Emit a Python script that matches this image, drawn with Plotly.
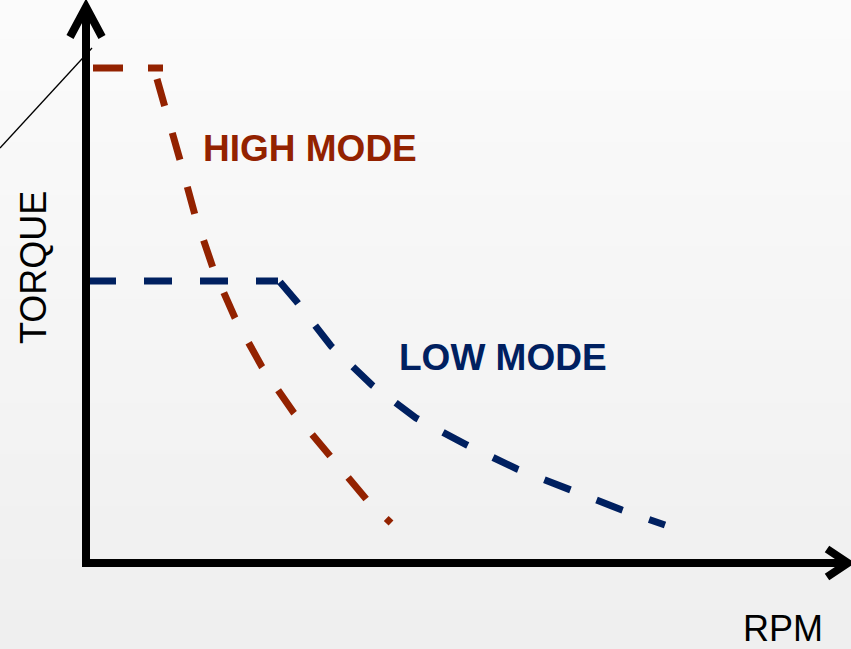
import plotly.graph_objects as go

# ---- data (RPM vs torque) ----
# HIGH MODE: constant-torque segment, then falling segment
high_flat_rpm = [70, 770]
high_flat_torque = [247.5, 247.5]
high_fall_rpm = [710, 790, 940, 1090, 1270, 1490, 1760, 2080, 2440, 2810, 3050]
high_fall_torque = [242, 228.5, 201.5, 174, 147.5, 122.5, 98, 75, 53, 31.5, 20]

# LOW MODE: constant-torque segment, then falling segment
low_flat_rpm = [20, 1920]
low_flat_torque = [141, 141]
low_fall_rpm = [1940, 2110, 2450, 2860, 3300, 3810, 4310, 4840, 5360, 5790]
low_fall_torque = [140.5, 130.5, 108.5, 89, 72.5, 59, 47, 36.5, 26.5, 19]

series_labels = ["HIGH MODE", "LOW MODE"]
axis_titles = ["RPM", "TORQUE"]

RED = "#932200"
BLUE = "#002060"

W, H = 851, 649
ML, MR, MT, MB = 86, 0, 5, 86
PW, PH = W - ML - MR, H - MT - MB


def px_x(p):  # pixel -> paper x
    return (p - ML) / PW


def px_y(p):  # pixel -> paper y
    return (H - MB - p) / PH


fig = go.Figure()
for xs, ys, col, dash in [
    (high_flat_rpm, high_flat_torque, RED, "30px,25px"),
    (high_fall_rpm, high_fall_torque, RED, "28px,28px"),
    (low_flat_rpm, low_flat_torque, BLUE, "28px,28px"),
    (low_fall_rpm, low_fall_torque, BLUE, "28px,28px"),
]:
    fig.add_trace(go.Scatter(x=xs, y=ys, mode="lines",
                             line=dict(color=col, width=7, dash=dash),
                             cliponaxis=False, hoverinfo="skip"))

shapes = []
# background gradient bands
n = 50
for i in range(n):
    t = i / (n - 1)
    c = round(251 - 12 * t)
    y_top = i * H / n
    y_bot = (i + 1) * H / n + 1
    shapes.append(dict(type="rect", xref="paper", yref="paper",
                       x0=px_x(0), x1=px_x(W), y0=px_y(y_bot), y1=px_y(y_top),
                       fillcolor=f"rgb({c},{c},{c})", line=dict(width=0),
                       layer="below"))

axis_line = dict(color="black", width=8)
# y axis
shapes.append(dict(type="line", xref="paper", yref="paper",
                   x0=px_x(86), x1=px_x(86), y0=px_y(565), y1=px_y(7), line=axis_line))
shapes.append(dict(type="path", xref="paper", yref="paper",
                   path=f"M {px_x(70)},{px_y(37)} L {px_x(86)},{px_y(7)} L {px_x(102)},{px_y(37)}",
                   line=axis_line))
# x axis
shapes.append(dict(type="line", xref="paper", yref="paper",
                   x0=px_x(82), x1=px_x(848), y0=px_y(563), y1=px_y(563), line=axis_line))
shapes.append(dict(type="path", xref="paper", yref="paper",
                   path=f"M {px_x(827)},{px_y(549)} L {px_x(848)},{px_y(563)} L {px_x(827)},{px_y(577)}",
                   line=axis_line))
# thin leader line
shapes.append(dict(type="line", xref="paper", yref="paper",
                   x0=px_x(0), x1=px_x(92), y0=px_y(148), y1=px_y(48),
                   line=dict(color="black", width=1.3)))

annotations = [
    dict(text=f"<b>{series_labels[0]}</b>", x=1150, y=207.5, xref="x", yref="y",
         xanchor="left", yanchor="middle", showarrow=False,
         font=dict(family="Liberation Sans, Arial", size=37, color=RED)),
    dict(text=f"<b>{series_labels[1]}</b>", x=3110, y=103, xref="x", yref="y",
         xanchor="left", yanchor="middle", showarrow=False,
         font=dict(family="Liberation Sans, Arial", size=37, color=BLUE)),
    dict(text=axis_titles[1], x=px_x(33), y=px_y(268), xref="paper", yref="paper",
         xanchor="center", yanchor="middle", textangle=-90, showarrow=False,
         font=dict(family="Liberation Sans, Arial", size=36, color="black")),
    dict(text=axis_titles[0], x=px_x(783), y=px_y(628), xref="paper", yref="paper",
         xanchor="center", yanchor="middle", showarrow=False,
         font=dict(family="Liberation Sans, Arial", size=36, color="black")),
]

fig.update_layout(
    width=W, height=H,
    margin=dict(l=ML, r=MR, t=MT, b=MB, pad=0),
    paper_bgcolor="#f4f4f4", plot_bgcolor="rgba(0,0,0,0)",
    showlegend=False,
    xaxis=dict(range=[0, PW * 10], visible=False, fixedrange=True),
    yaxis=dict(range=[0, PH / 2], visible=False, fixedrange=True),
    shapes=shapes, annotations=annotations,
)

fig.write_html("out.html", config={"displayModeBar": False},
               post_script="document.body.style.margin='0';document.body.style.overflow='hidden';")
